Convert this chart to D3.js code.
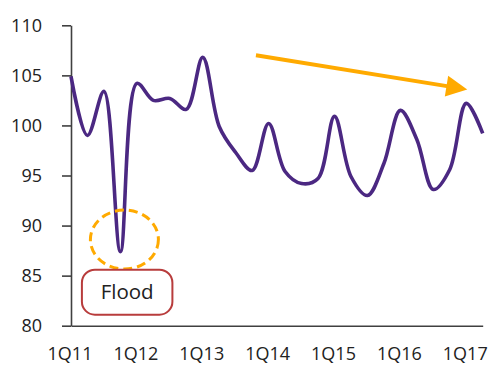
<!DOCTYPE html>
<html>
<head>
<meta charset="utf-8">
<script src="https://cdn.jsdelivr.net/npm/d3@7"></script>
<style>
  html, body { margin: 0; padding: 0; background: #fff; }
  svg { display: block; font-family: "Open Sans", "Noto Sans", sans-serif; }
</style>
</head>
<body>
<svg id="chart" width="490" height="367"></svg>
<script>
const quarters = ["1Q11","2Q11","3Q11","4Q11","1Q12","2Q12","3Q12","4Q12",
  "1Q13","2Q13","3Q13","4Q13","1Q14","2Q14","3Q14","4Q14",
  "1Q15","2Q15","3Q15","4Q15","1Q16","2Q16","3Q16","4Q16","1Q17","2Q17"];
const values = [104.9, 99.0, 103.4, 87.4, 104.2, 102.5, 102.7, 101.6,
  106.8, 99.9, 97.3, 95.5, 100.2, 95.4, 94.2, 94.7,
  100.9, 94.9, 93.0, 96.2, 101.5, 98.6, 93.6, 95.6, 102.2, 99.2];
const xTickLabels = ["1Q11","1Q12","1Q13","1Q14","1Q15","1Q16","1Q17"];
const yTicks = [80, 85, 90, 95, 100, 105, 110];
const floodLabel = "Flood";

const svg = d3.select("#chart");
const x = d3.scalePoint().domain(quarters).range([71, 482.7]);
const y = d3.scaleLinear().domain([80, 110]).range([325.7, 25.3]);

// Y axis
const yAxis = svg.append("g")
  .attr("transform", "translate(71,0)")
  .call(d3.axisLeft(y).tickValues(yTicks).tickSize(9).tickPadding(20).tickSizeOuter(0));
yAxis.select(".domain").attr("stroke", "#404040").attr("stroke-width", 1.6);
yAxis.selectAll(".tick line").attr("stroke", "#404040").attr("stroke-width", 1.6);
yAxis.selectAll(".tick text").attr("font-size", 18).attr("fill", "#222")
  .attr("font-family", "'Open Sans', sans-serif");

// X axis
const xAxis = svg.append("g")
  .attr("transform", "translate(0," + y(80) + ")")
  .call(d3.axisBottom(x).tickValues(xTickLabels).tickSize(0).tickPadding(22).tickSizeOuter(0));
xAxis.select(".domain").attr("stroke", "#404040").attr("stroke-width", 1.6);
xAxis.selectAll(".tick text").attr("font-size", 18).attr("fill", "#222")
  .attr("dx", -1.5).attr("font-family", "'Open Sans', sans-serif");

// Line
const line = d3.line()
  .x((d, i) => x(quarters[i]))
  .y(d => y(d))
  .curve(d3.curveCatmullRom.alpha(0.5));
svg.append("path")
  .datum(values)
  .attr("fill", "none")
  .attr("stroke", "#4B2882")
  .attr("stroke-width", 3.6)
  .attr("stroke-linejoin", "round")
  .attr("d", line);

// Flood dashed ellipse
svg.append("ellipse")
  .attr("cx", x("4Q11") + 4)
  .attr("cy", y(88.6))
  .attr("rx", 34)
  .attr("ry", 29.5)
  .attr("fill", "none")
  .attr("stroke", "#FFAA00")
  .attr("stroke-width", 3)
  .attr("stroke-dasharray", "9,5");

// Flood label box
const bx0 = x("4Q11") - 38.5, bx1 = x("4Q11") + 52;
const by0 = y(85.6), by1 = y(81.1);
svg.append("rect")
  .attr("x", bx0).attr("y", by0)
  .attr("width", bx1 - bx0).attr("height", by1 - by0)
  .attr("rx", 13).attr("ry", 13)
  .attr("fill", "#fff")
  .attr("stroke", "#B83C3C")
  .attr("stroke-width", 2);
svg.append("text")
  .attr("x", (bx0 + bx1) / 2)
  .attr("y", (by0 + by1) / 2 + 7)
  .attr("text-anchor", "middle")
  .attr("font-size", 20.5)
  .attr("fill", "#222")
  .text(floodLabel);

// Trend arrow
const ax0 = x("4Q13") + 3.8, ay0 = y(107.0);
const ax1 = x("1Q17") + 1, ay1 = y(103.6);
const ang = Math.atan2(ay1 - ay0, ax1 - ax0);
const headLen = 21, headW = 10.5;
const bxh = ax1 - headLen * Math.cos(ang), byh = ay1 - headLen * Math.sin(ang);
svg.append("line")
  .attr("x1", ax0).attr("y1", ay0)
  .attr("x2", bxh + 2 * Math.cos(ang)).attr("y2", byh + 2 * Math.sin(ang))
  .attr("stroke", "#FFAA00")
  .attr("stroke-width", 4);
svg.append("path")
  .attr("d", d3.line()([
    [ax1, ay1],
    [bxh + headW * Math.sin(ang), byh - headW * Math.cos(ang)],
    [bxh - headW * Math.sin(ang), byh + headW * Math.cos(ang)]
  ]) + "Z")
  .attr("fill", "#FFAA00");
</script>
</body>
</html>
